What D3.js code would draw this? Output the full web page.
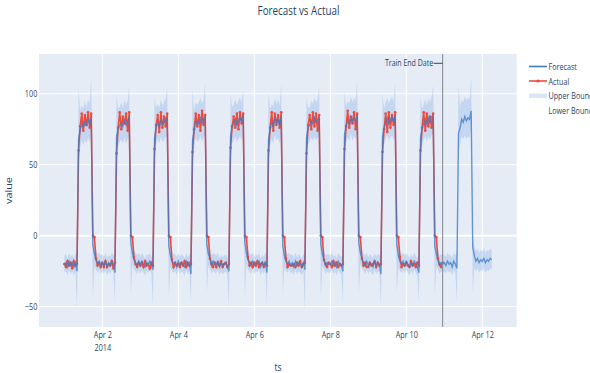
<!DOCTYPE html>
<html>
<head>
<meta charset="utf-8">
<script src="https://cdn.jsdelivr.net/npm/d3@7"></script>
<style>
  body { margin: 0; background: #fff; }
  svg { display: block; font-family: "Open Sans", sans-serif; }
</style>
</head>
<body>
<svg id="chart" width="590" height="373"></svg>
<script>
// hourly series, first point 2014-04-01 00:00
const startTime = new Date(2014, 3, 1, 0, 0)
const trainEnd = new Date(2014, 3, 10, 23, 0)
const xTicks = [new Date(2014, 3, 2), new Date(2014, 3, 4), new Date(2014, 3, 6),
                new Date(2014, 3, 8), new Date(2014, 3, 10), new Date(2014, 3, 12)]
const yTicks = [-50, 0, 50, 100]
const legendNames = ["Forecast", "Actual", "Upper Bound", "Lower Bound"]

const actual = [
  -20,-22,-18,-21,-19,-23,-18,-21,-20,60,77,86,74,85,78,87,76,86,0,-1,-16,-21,-19,-22,
  -19,-22,-18,-22,-20,-21,-18,-23,-19,58,76,87,75,84,79,86,74,87,0,-1,-15,-20,-22,-19,
  -21,-19,-22,-18,-21,-20,-23,-19,-21,61,78,85,73,87,76,84,77,86,0,-1,-17,-22,-19,-21,
  -20,-22,-19,-21,-18,-22,-19,-21,-20,59,75,86,77,85,74,88,78,85,0,-1,-16,-20,-22,-19,
  -22,-19,-21,-18,-22,-20,-19,-22,-20,62,77,84,76,86,75,87,79,86,0,-1,-15,-21,-19,-22,
  -19,-21,-18,-22,-20,-19,-22,-20,-21,60,76,87,74,86,78,85,76,87,0,-1,-16,-22,-20,-21,
  -21,-20,-22,-19,-21,-18,-22,-20,-19,58,78,85,75,87,77,86,74,85,0,-1,-17,-20,-22,-19,
  -20,-22,-18,-21,-19,-22,-20,-21,-20,61,77,88,76,84,79,87,75,86,0,-1,-16,-21,-19,-22,
  -22,-19,-21,-20,-18,-22,-19,-21,-20,59,75,86,73,87,76,85,78,87,0,-1,-15,-22,-20,-21,
  -19,-21,-22,-18,-21,-20,-22,-19,-21,60,76,87,74,86,77,84,76,86,0,-1,-16,-20,-22,-19
]

const forecast = [
  -20,-19,-22,-18,-21,-19,-22,-19,-25,68,74,79,76,81,77,82,79,83,-6,-13,-17,-20,-18,-21,
  -19,-21,-18,-22,-19,-21,-18,-20,-26,70,75,78,80,77,82,78,81,84,-5,-12,-17,-19,-21,-18,
  -21,-18,-20,-22,-19,-20,-18,-21,-24,69,76,80,77,82,78,80,83,82,-7,-14,-18,-20,-19,-22,
  -18,-21,-19,-20,-22,-18,-21,-19,-27,67,74,81,78,80,83,79,82,84,-6,-13,-16,-21,-18,-20,
  -20,-18,-22,-19,-21,-20,-19,-22,-25,70,77,79,82,78,81,83,80,85,-5,-12,-17,-19,-21,-18,
  -21,-19,-20,-18,-22,-19,-21,-18,-26,68,75,80,77,83,79,82,78,84,-7,-14,-18,-20,-18,-21,
  -19,-22,-18,-21,-19,-20,-22,-19,-24,69,76,78,81,79,83,80,82,83,-6,-13,-17,-21,-19,-20,
  -20,-18,-21,-19,-22,-18,-20,-21,-25,71,77,81,79,84,80,83,81,85,-5,-12,-16,-19,-21,-18,
  -21,-19,-20,-22,-18,-21,-19,-20,-27,70,76,80,83,79,82,84,80,85,-6,-14,-18,-20,-18,-21,
  -18,-20,-22,-19,-21,-18,-20,-22,-26,69,75,79,82,78,83,80,84,84,-7,-13,-17,-21,-19,-20,
  -19,-21,-18,-20,-19,-22,-18,-20,-23,72,76,82,80,84,81,83,82,88,-8,-14,-18,-16,-19,-17,
  -18,-16,-19,-17,-18,-16,-17
]

const upper = [
  -14,-13,-16,-12,-15,-13,-16,-13,-12,104,88,92,89,95,90,96,93,112,4,-6,-10,-13,-12,-14,
  -13,-15,-12,-16,-13,-15,-12,-14,-13,100,89,91,94,90,96,92,95,106,5,-5,-10,-12,-14,-12,
  -15,-12,-14,-16,-13,-14,-12,-15,-12,98,90,93,90,96,92,94,97,104,3,-7,-11,-13,-13,-15,
  -12,-15,-13,-14,-16,-12,-15,-13,-14,103,88,94,92,94,97,93,96,108,4,-6,-9,-14,-12,-13,
  -14,-12,-16,-13,-15,-14,-13,-16,-12,99,91,92,96,92,95,97,94,103,5,-5,-10,-12,-14,-12,
  -15,-13,-14,-12,-16,-13,-15,-12,-13,101,89,93,91,97,93,96,92,107,3,-7,-11,-13,-12,-14,
  -13,-16,-12,-15,-13,-14,-16,-13,-12,97,90,91,95,93,97,94,96,105,4,-6,-10,-14,-13,-13,
  -14,-12,-15,-13,-16,-12,-14,-15,-13,102,91,95,93,98,94,97,95,110,5,-5,-9,-12,-14,-12,
  -15,-13,-14,-16,-12,-15,-13,-14,-14,100,90,94,97,93,96,98,94,108,4,-7,-11,-13,-12,-14,
  -12,-14,-16,-13,-15,-12,-14,-16,-13,98,89,93,96,92,97,94,98,106,3,-6,-10,-14,-13,-13,
  -13,-15,-12,-14,-13,-16,-12,-14,-11,107,91,96,94,98,95,97,96,112,2,-7,-11,-9,-12,-10,
  -11,-9,-12,-10,-11,-9,-10
]

const lower = [
  -26,-25,-28,-24,-27,-25,-28,-25,-52,52,62,67,64,68,65,69,66,70,-45,-21,-24,-26,-24,-27,
  -25,-27,-24,-28,-25,-27,-24,-26,-48,54,63,66,68,65,69,65,68,71,-42,-20,-24,-25,-27,-24,
  -27,-24,-26,-28,-25,-26,-24,-27,-50,53,64,68,65,70,66,67,70,69,-44,-22,-25,-26,-25,-28,
  -24,-27,-25,-26,-28,-24,-27,-25,-47,51,62,69,66,67,70,66,69,71,-40,-21,-23,-27,-24,-26,
  -26,-24,-28,-25,-27,-26,-25,-28,-51,54,65,67,70,66,68,70,67,72,-43,-20,-24,-25,-27,-24,
  -27,-25,-26,-24,-28,-25,-27,-24,-49,52,63,68,65,71,67,69,65,71,-41,-22,-25,-26,-24,-27,
  -25,-28,-24,-27,-25,-26,-28,-25,-53,53,64,66,69,67,70,67,69,70,-44,-21,-24,-27,-25,-26,
  -26,-24,-27,-25,-28,-24,-26,-27,-48,55,65,69,67,72,67,70,68,72,-42,-20,-23,-25,-27,-24,
  -27,-25,-26,-28,-24,-27,-25,-26,-50,54,64,68,71,67,69,71,67,72,-40,-22,-25,-26,-24,-27,
  -24,-26,-28,-25,-27,-24,-26,-28,-47,53,63,67,70,66,70,67,71,71,-43,-21,-24,-27,-25,-26,
  -25,-27,-24,-26,-25,-28,-24,-26,-47,56,64,70,68,71,68,70,69,75,-40,-22,-25,-23,-26,-24,
  -25,-23,-26,-24,-25,-23,-24
]

const SX = 0.78            // picture is squeezed horizontally
const textColor = "#2a3f5f"
const blue = "#3b7bc8", red = "#ef4b3d", bandFill = "rgba(70,130,220,0.2)"

const times = d3.range(forecast.length).map(i => d3.timeHour.offset(startTime, i))

const svg = d3.select("#chart")
const plotL = 39, plotR = 516.7, plotT = 54, plotB = 327

const x = d3.scaleTime()
  .domain([new Date(2014, 2, 31, 8, 0), new Date(2014, 3, 12, 21, 46)])
  .range([plotL, plotR])
const y = d3.scaleLinear().domain([-64.3, 128]).range([plotB, plotT])

function label(g, px, py, str, size, anchor, rotate) {
  return g.append("text")
    .attr("transform", `translate(${px},${py}) scale(${SX},1)` + (rotate ? " rotate(-90)" : ""))
    .attr("text-anchor", anchor || "start")
    .attr("font-size", size)
    .attr("fill", textColor)
    .text(str)
}

svg.append("rect").attr("x", plotL).attr("y", plotT)
  .attr("width", plotR - plotL).attr("height", plotB - plotT).attr("fill", "#e5ecf6")

svg.append("clipPath").attr("id", "plotclip").append("rect")
  .attr("x", plotL).attr("y", plotT).attr("width", plotR - plotL).attr("height", plotB - plotT)

// grid
svg.append("g").selectAll("line").data(xTicks).join("line")
  .attr("x1", d => x(d)).attr("x2", d => x(d)).attr("y1", plotT).attr("y2", plotB)
  .attr("stroke", "#fff").attr("stroke-width", 1)
svg.append("g").selectAll("line").data(yTicks).join("line")
  .attr("x1", plotL).attr("x2", plotR).attr("y1", d => y(d)).attr("y2", d => y(d))
  .attr("stroke", "#fff").attr("stroke-width", d => d === 0 ? 2 : 1)

const plot = svg.append("g").attr("clip-path", "url(#plotclip)")

// confidence band
const band = d3.area()
  .x((d, i) => x(times[i]))
  .y0((d, i) => y(lower[i]))
  .y1((d, i) => y(upper[i]))
plot.append("path").datum(upper).attr("d", band).attr("fill", bandFill)

// actual
const line = d3.line().x((d, i) => x(times[i])).y(d => y(d))
plot.append("path").datum(actual).attr("d", line)
  .attr("fill", "none").attr("stroke", red).attr("stroke-width", 1.6)
plot.append("g").selectAll("circle").data(actual).join("circle")
  .attr("cx", (d, i) => x(times[i])).attr("cy", d => y(d)).attr("r", 1.3)
  .attr("fill", red)

// forecast
plot.append("path").datum(forecast).attr("d", line)
  .attr("fill", "none").attr("stroke", blue).attr("stroke-width", 1.4)
  .attr("stroke-opacity", 0.75)

// train end marker
svg.append("line").attr("x1", x(trainEnd)).attr("x2", x(trainEnd))
  .attr("y1", plotT).attr("y2", plotB).attr("stroke", "#80858f").attr("stroke-width", 1)
svg.append("line").attr("x1", x(trainEnd) - 9).attr("x2", x(trainEnd))
  .attr("y1", 63.3).attr("y2", 63.3).attr("stroke", "#444").attr("stroke-width", 1)
label(svg, x(trainEnd) - 9.5, 66, "Train End Date", 9, "end")

// axes
const xAxis = svg.append("g").attr("transform", `translate(0,${plotB})`)
  .call(d3.axisBottom(x).tickValues(xTicks).tickSize(0).tickPadding(4.7)
    .tickFormat(d3.timeFormat("%b %-d")))
xAxis.select(".domain").remove()
xAxis.selectAll("text").attr("font-size", 9.3).attr("fill", textColor)
  .attr("font-family", "Open Sans").attr("transform", `scale(${SX},1)`)
  .each(function (d, i) {
    if (i === 0) d3.select(this).append("tspan").attr("x", 0).attr("dy", "1.33em").text("2014")
  })

const yAxis = svg.append("g").attr("transform", `translate(${plotL},0)`)
  .call(d3.axisLeft(y).tickValues(yTicks).tickSize(0).tickPadding(2.2)
    .tickFormat(d => d < 0 ? "\u2212" + Math.abs(d) : d))
yAxis.select(".domain").remove()
yAxis.selectAll("text").attr("font-size", 9.3).attr("fill", textColor)
  .attr("font-family", "Open Sans").attr("transform", `scale(${SX},1)`)

label(svg, 278, 371, "ts", 11, "middle")
label(svg, 12.3, 190.5, "value", 10.8, "middle", true)
label(svg, 298.5, 15, "Forecast vs Actual", 12.6, "middle")

// legend (right edge of the picture cuts the longer names, as in the original)
const lg = svg.append("g")
const rowY = [70, 84.5, 99, 113.5]
lg.append("line").attr("x1", 529).attr("x2", 547).attr("y1", rowY[0] - 3.5).attr("y2", rowY[0] - 3.5)
  .attr("stroke", blue).attr("stroke-width", 1.6)
lg.append("line").attr("x1", 529).attr("x2", 547).attr("y1", rowY[1] - 3.5).attr("y2", rowY[1] - 3.5)
  .attr("stroke", red).attr("stroke-width", 1.6)
lg.append("circle").attr("cx", 538).attr("cy", rowY[1] - 3.5).attr("r", 1.6).attr("fill", red)
lg.append("rect").attr("x", 529).attr("y", rowY[2] - 5.5).attr("width", 18).attr("height", 4.5)
  .attr("fill", bandFill)
legendNames.forEach((n, i) => label(lg, 548.5, rowY[i], n, 9.2, "start"))
</script>
</body>
</html>
